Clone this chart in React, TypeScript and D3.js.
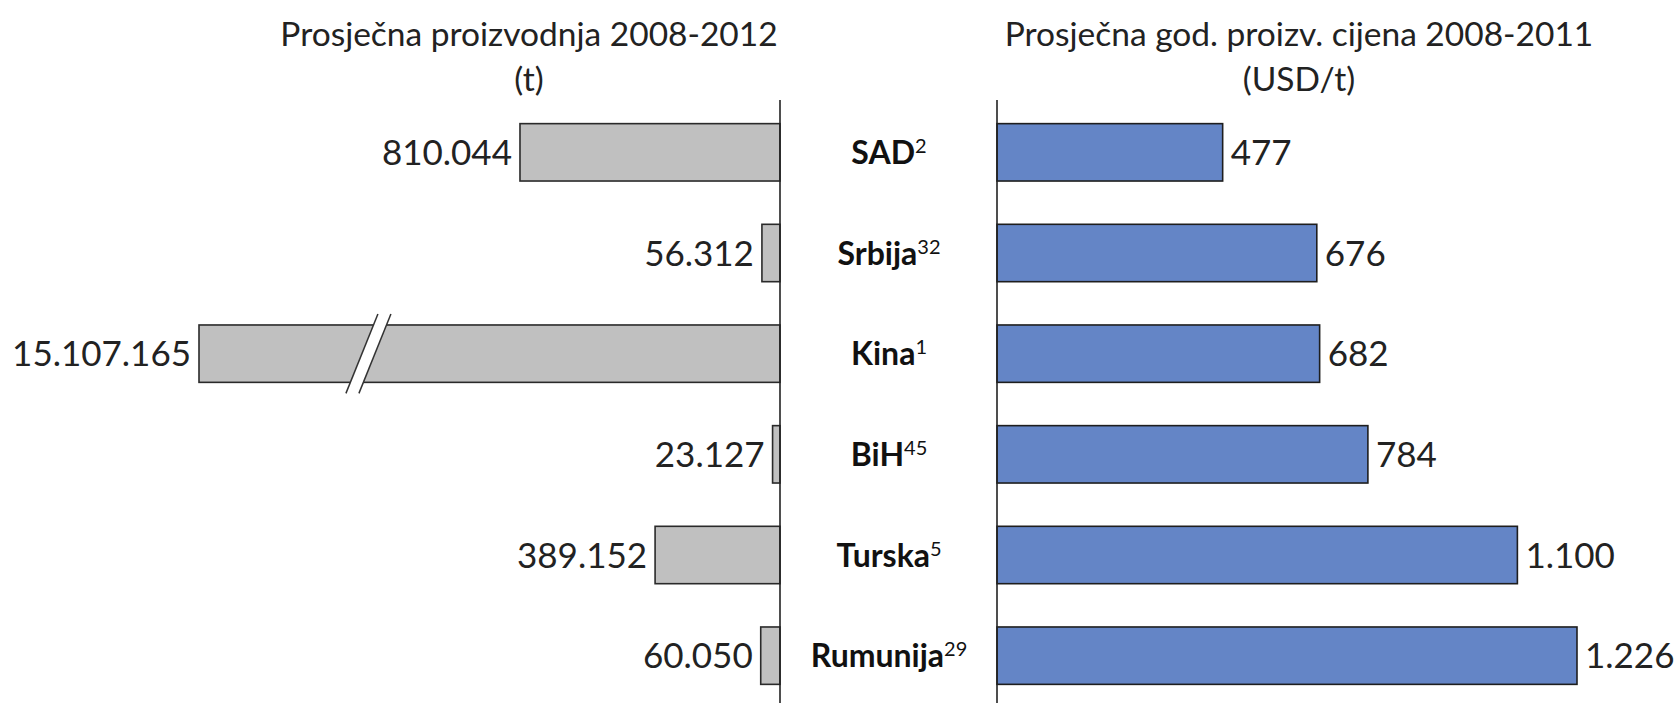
import React from "react";
import * as d3 from "d3";

const categories = ["SAD", "Srbija", "Kina", "BiH", "Turska", "Rumunija"];
const superscripts = ["2", "32", "1", "45", "5", "29"];
const production = [810044, 56312, 15107165, 23127, 389152, 60050];
const price = [477, 676, 682, 784, 1100, 1226];
const leftTitle = ["Prosječna proizvodnja 2008-2012", "(t)"];
const rightTitle = ["Prosječna god. proizv. cijena 2008-2011", "(USD/t)"];
const productionAxisMax = 1810000;
const productionBreakAt = 1290000;
const priceAxisMax = 1300;

const W = 1679;
const H = 703;
const FONT = "Lato, 'Open Sans', sans-serif";

const fmt = d3.formatLocale({
  decimal: ",",
  thousands: ".",
  grouping: [3],
  currency: ["", ""],
}).format(",d");

export default function App() {
  const leftAxisX = 780;
  const rightAxisX = 997;
  const y = d3
    .scaleBand<string>()
    .domain(categories)
    .range([102, 706])
    .paddingInner(0.43)
    .paddingOuter(0.215);
  const xL = d3
    .scaleLinear()
    .domain([0, productionAxisMax])
    .range([leftAxisX, 199])
    .clamp(true);
  const xR = d3.scaleLinear().domain([0, priceAxisMax]).range([rightAxisX, 1612]);
  const bw = y.bandwidth();

  return (
    <svg
      width={W}
      height={H}
      style={{ position: "absolute", left: 0, top: 0, background: "#fff" }}
      fontFamily={FONT}
    >
      <rect x={0} y={0} width={W} height={H} fill="#fff" />
      {/* titles */}
      <text x={529} y={46} fontSize={33.5} textAnchor="middle" fill="#222">
        {leftTitle[0]}
      </text>
      <text x={529} y={91} fontSize={33.5} textAnchor="middle" fill="#222">
        {leftTitle[1]}
      </text>
      <text x={1299} y={46} fontSize={33.5} textAnchor="middle" fill="#222">
        {rightTitle[0]}
      </text>
      <text x={1299} y={91} fontSize={33.5} textAnchor="middle" fill="#222">
        {rightTitle[1]}
      </text>

      {/* left bars */}
      {categories.map((c, i) => {
        const y0 = y(c)!;
        const x0 = xL(production[i]);
        const clipped = production[i] > productionAxisMax;
        const bx = xL(productionBreakAt);
        const skew = 10;
        return (
          <g key={"l" + c}>
            <rect
              x={x0}
              y={y0}
              width={leftAxisX - x0}
              height={bw}
              fill="#c0c0c0"
              stroke="#2a2a2a"
              strokeWidth={1.6}
            />
            {clipped && (
              <g>
                <polygon
                  points={`${bx + skew + 2},${y0 - 11} ${bx + skew + 15},${y0 - 11} ${bx - skew + 3},${y0 + bw + 11} ${bx - skew - 10},${y0 + bw + 11}`}
                  fill="#fff"
                />
                <line
                  x1={bx + skew + 2}
                  y1={y0 - 11}
                  x2={bx - skew - 10}
                  y2={y0 + bw + 11}
                  stroke="#333"
                  strokeWidth={1.5}
                />
                <line
                  x1={bx + skew + 15}
                  y1={y0 - 11}
                  x2={bx - skew + 3}
                  y2={y0 + bw + 11}
                  stroke="#333"
                  strokeWidth={1.5}
                />
              </g>
            )}
            <text
              x={x0 - 8}
              y={y0 + bw / 2}
              dy="0.36em"
              fontSize={35}
              textAnchor="end"
              fill="#222"
            >
              {fmt(production[i])}
            </text>
          </g>
        );
      })}

      {/* right bars */}
      {categories.map((c, i) => {
        const y0 = y(c)!;
        const x1 = xR(price[i]);
        return (
          <g key={"r" + c}>
            <rect
              x={rightAxisX}
              y={y0}
              width={x1 - rightAxisX}
              height={bw}
              fill="#6485c6"
              stroke="#1e1e1e"
              strokeWidth={1.6}
            />
            <text
              x={x1 + 8}
              y={y0 + bw / 2}
              dy="0.36em"
              fontSize={35}
              textAnchor="start"
              fill="#222"
            >
              {fmt(price[i])}
            </text>
          </g>
        );
      })}

      {/* axis lines */}
      <line x1={leftAxisX} x2={leftAxisX} y1={100} y2={H} stroke="#222" strokeWidth={1.6} />
      <line x1={rightAxisX} x2={rightAxisX} y1={100} y2={H} stroke="#222" strokeWidth={1.6} />

      {/* category labels */}
      {categories.map((c, i) => {
        const y0 = y(c)!;
        return (
          <text
            key={"c" + c}
            x={889}
            y={y0 + bw / 2}
            dy="0.36em"
            fontSize={32}
            fontWeight="bold"
            textAnchor="middle"
            fill="#111"
          >
            {c}
            <tspan fontSize={20} fontWeight="normal" dy="-0.55em">
              {superscripts[i]}
            </tspan>
          </text>
        );
      })}
    </svg>
  );
}
